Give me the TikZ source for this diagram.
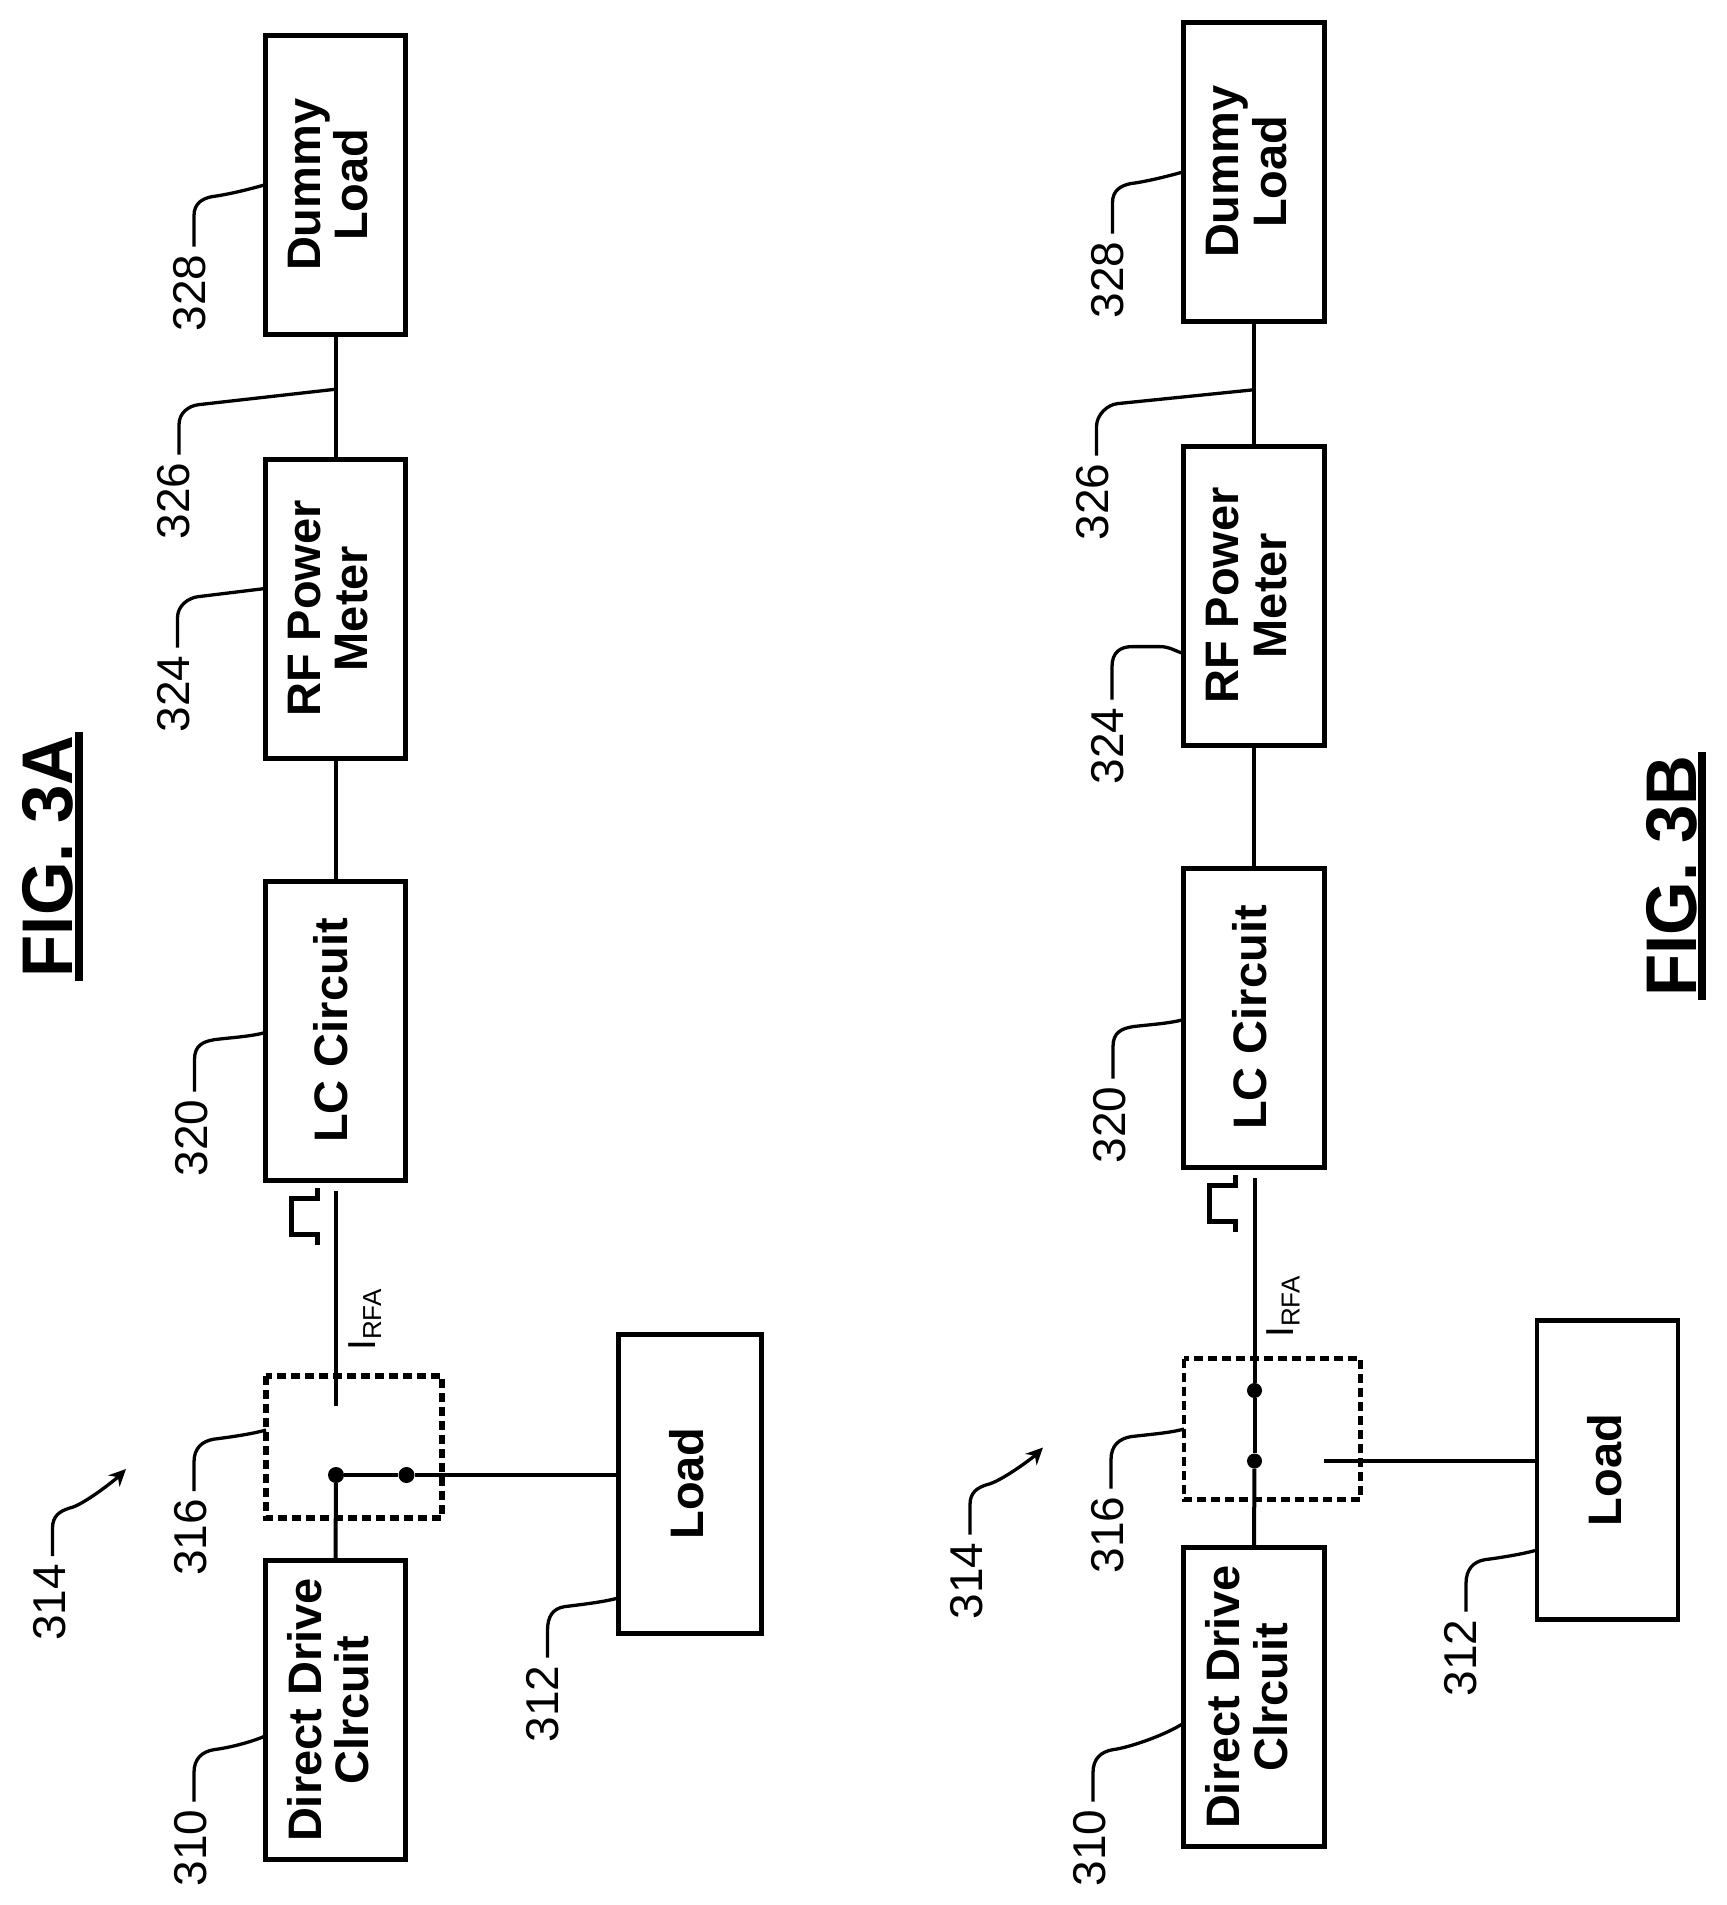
\documentclass[tikz,border=0pt]{standalone}
\usepackage{fontspec}
\setmainfont{Liberation Sans}
\usetikzlibrary{arrows.meta}

\tikzset{
    blockbox/.style={draw=black, line width=5pt, rotate=90, inner sep=0pt, outer sep=0pt,
        minimum width=299pt, minimum height=140.5pt, align=center, text depth=15pt,
        font=\fontsize{47}{47.6}\selectfont\bfseries},
    switchbox/.style={draw=black, line width=5.5pt, dash pattern=on 9pt off 5pt, rotate=90,
        inner sep=0pt, outer sep=0pt},
    refnum/.style={rotate=90, inner sep=0pt, outer sep=8pt, font=\fontsize{46}{46}\selectfont},
    figtitle/.style={rotate=90, inner sep=0pt, outer sep=0pt, anchor=south, text depth=0pt,
        font=\fontsize{69}{69}\selectfont\bfseries},
    currentlabel/.style={rotate=90, inner sep=0pt, anchor=base west, font=\fontsize{39}{39}\selectfont},
    jointdot/.style={circle, fill=black, inner sep=0pt, minimum size=16pt},
    wire/.style={line width=4pt},
    thinwire/.style={line width=3.5pt},
    pulseline/.style={line width=5pt},
    leader/.style={line width=3.3pt},
    figbar/.style={line width=8pt}
}

\begin{document}
\begin{tikzpicture}[x=1pt, y=-1pt]
    \useasboundingbox (0,0) rectangle (1726,1905);

    % Figure 3A
    \begin{scope}
        \node[blockbox] (dummya) at (335.5,184.75) {Dummy\\Load};
        \node[blockbox] (metera) at (335.5,608.5) {RF Power\\Meter};
        \node[blockbox, text depth=10pt] (lca) at (335.5,1030.5) {LC Circuit};
        \node[blockbox] (drivea) at (335.5,1710) {Direct Drive\\Clrcuit};
        \node[blockbox, text depth=7pt, minimum height=143pt] (loada) at (689.5,1483.5) {Load};
        \node[switchbox, minimum width=142pt, minimum height=176pt] (switcha) at (354,1447) {};

        % Wires
        \draw[wire] (dummya.west) -- (metera.east);
        \draw[wire] (metera.west) -- (lca.east);
        \coordinate (toplinea) at (336,1191);
        \coordinate (botlinea) at (336,1406);
        \draw[wire] (toplinea) -- (botlinea);
        \node[jointdot] (jointa) at (336,1475) {};
        \node[jointdot] (contacta) at (406.5,1475) {};
        \draw[wire] (drivea.east) -- (jointa);
        \draw[wire] (jointa) -- (contacta);
        \draw[wire] (contacta) -- (contacta -| loada.north);

        % Pulse and current
        \draw[pulseline] (317,1188) -- (317,1198) -- (291,1198) -- (291,1234) -- (317,1234) -- (317,1245);
        \node[currentlabel] (irfaa) at (375,1351) {I\raisebox{-6pt}{\fontsize{26}{26}\selectfont RFA}};

        % Reference numbers
        \node[refnum] (n314a) at (49.5,1602.5) {314};
        \node[refnum] (n316a) at (191,1537.5) {316};
        \node[refnum] (n310a) at (191,1848) {310};
        \node[refnum] (n312a) at (542.5,1704) {312};
        \node[refnum] (n328a) at (189.5,293) {328};
        \node[refnum] (n326a) at (173.5,501) {326};
        \node[refnum] (n324a) at (173.5,694) {324};
        \node[refnum] (n320a) at (191.5,1138) {320};

        % Leaders
        \coordinate (tipa) at (126,1469);
        \draw[leader, -{Stealth[length=17pt,width=16pt]}] ([xshift=3pt]n314a.east) -- ++(0,-28) .. controls +(0,-12) and +(-10,3) .. ++(17,-20) .. controls +(14,-3) and +(-10,10) .. (tipa);
        \draw[leader] ([xshift=3pt]n316a.east) -- ++(0,-29) .. controls +(0,-14) and +(-12,2) .. ++(20,-23) .. controls +(16,-2) and +(-14,4) .. ([shift={(0,-17)}]switcha.north);
        \draw[leader] ([xshift=3pt]n310a.east) -- ++(0,-29) .. controls +(0,-14) and +(-12,2) .. ++(20,-23) .. controls +(16,-2) and +(-14,6) .. ([shift={(0,26)}]drivea.north);
        \draw[leader] ([xshift=5pt]n312a.east) -- ++(0,-27) .. controls +(0,-14) and +(-12,2) .. ++(17,-24) .. controls +(16,-2) and +(-14,4) .. ([shift={(0,114.5)}]loada.north);
        \draw[leader] ([xshift=4.5pt]n328a.east) -- ++(0,-31) .. controls +(0,-12) and +(-10,2) .. ++(18,-19) .. controls +(16,-2) and +(-14,4) .. (dummya.north);
        \draw[leader] ([xshift=5.5pt]n326a.east) -- ++(0,-30) .. controls +(0,-12) and +(-10,1) .. ++(20,-20) -- ([shift={(0,55)}]dummya.west);
        \draw[leader] ([xshift=4pt]n324a.east) -- ++(0,-30) .. controls +(0,-12) and +(-10,1) .. ++(21,-21) -- ([shift={(0,-20)}]metera.north);
        \draw[leader] ([xshift=3pt]n320a.east) -- ++(0,-32) .. controls +(0,-14) and +(-12,2) .. ++(20,-20) .. controls +(16,-2) and +(-14,4) .. ([shift={(0,2)}]lca.north);
    \end{scope}

    % Figure 3B
    \begin{scope}[shift={(918.5,-13)}]
        \node[blockbox] (dummyb) at (335.5,184.75) {Dummy\\Load};
        \node[blockbox] (meterb) at (335.5,608.5) {RF Power\\Meter};
        \node[blockbox, text depth=10pt] (lcb) at (335.5,1030.5) {LC Circuit};
        \node[blockbox] (driveb) at (335.5,1710) {Direct Drive\\Clrcuit};
        \node[blockbox, text depth=7pt, minimum height=141pt, line width=4.2pt] (loadb) at (689,1483) {Load};
        \node[switchbox, line width=4.5pt, minimum width=141pt, minimum height=176.5pt] (switchb) at (353.75,1442) {};

        % Wires
        \draw[wire] (dummyb.west) -- (meterb.east);
        \draw[wire] (meterb.west) -- (lcb.east);
        \coordinate (toplineb) at (336,1191);
        \node[jointdot, minimum size=15pt] (jointb) at (336,1474) {};
        \node[jointdot, minimum size=15pt] (contactb) at (336,1403.5) {};
        \draw[wire] (toplineb) -- (contactb);
        \draw[wire] (contactb) -- (jointb);
        \draw[wire] (jointb) -- (driveb.east);
        \coordinate (stubb) at (405,1474);
        \draw[thinwire] (stubb) -- (stubb -| loadb.north);

        % Pulse and current
        \draw[pulseline] (317,1188) -- (317,1198) -- (291,1198) -- (291,1234) -- (317,1234) -- (317,1245);
        \node[currentlabel] (irfab) at (375,1351) {I\raisebox{-6pt}{\fontsize{26}{26}\selectfont RFA}};

        % Reference numbers
        \node[refnum] (n314b) at (48.5,1594) {314};
        \node[refnum] (n316b) at (189.5,1548) {316};
        \node[refnum] (n310b) at (171.5,1861) {310};
        \node[refnum] (n312b) at (542.5,1671) {312};
        \node[refnum] (n328b) at (189.5,293) {328};
        \node[refnum] (n326b) at (174.5,515) {326};
        \node[refnum] (n324b) at (189.5,759) {324};
        \node[refnum] (n320b) at (191.5,1138) {320};

        % Leaders
        \coordinate (tipb) at (124.5,1460.5);
        \draw[leader, -{Stealth[length=17pt,width=16pt]}] ([xshift=3pt]n314b.east) -- ++(0,-30) .. controls +(0,-12) and +(-10,3) .. ++(17,-20) .. controls +(14,-3) and +(-10,10) .. (tipb);
        \draw[leader] ([xshift=3pt]n316b.east) -- ++(0,-29) .. controls +(0,-14) and +(-12,2) .. ++(20,-23) .. controls +(16,-2) and +(-14,4) .. ([shift={(0,0)}]switchb.north);
        \draw[leader] ([xshift=3pt]n310b.east) -- ++(0,-29) .. controls +(0,-14) and +(-12,2) .. ++(20,-23) .. controls +(16,-2) and +(-18,12) .. ([shift={(0,26)}]driveb.north);
        \draw[leader] ([xshift=5pt]n312b.east) -- ++(0,-28) .. controls +(0,-14) and +(-12,2) .. ++(19,-24) .. controls +(16,-2) and +(-14,4) .. ([shift={(0,80)}]loadb.north);
        \draw[leader] ([xshift=4.5pt]n328b.east) -- ++(0,-31) .. controls +(0,-12) and +(-10,2) .. ++(18,-19) .. controls +(16,-2) and +(-14,4) .. (dummyb.north);
        \draw[leader] ([xshift=3.5pt]n326b.east) -- ++(0,-29) .. controls +(0,-12) and +(-10,1) .. ++(21,-23) -- ([shift={(0,68.5)}]dummyb.west);
        \draw[leader] ([xshift=4pt]n324b.east) -- ++(0,-33) .. controls +(0,-14) and +(-12,0) .. ++(20,-20) -- ++(28,0) .. controls +(10,0) and +(-8,-2) .. ([shift={(0,58)}]meterb.north);
        \draw[leader] ([xshift=3pt]n320b.east) -- ++(0,-32) .. controls +(0,-14) and +(-12,2) .. ++(20,-20) .. controls +(16,-2) and +(-14,4) .. ([shift={(0,2)}]lcb.north);
    \end{scope}

    % Figure titles
    \node[figtitle] (titlea) at (72,856.5) {\scalebox{1}[1.04]{FIG. 3A}};
    \draw[figbar] ([shift={(7,3.5)}]titlea.south west) -- ([shift={(7,-3.5)}]titlea.south east);
    \node[figtitle] (titleb) at (1696,876) {\scalebox{1}[1.04]{FIG. 3B}};
    \draw[figbar] ([shift={(5.5,3.5)}]titleb.south west) -- ([shift={(5.5,-3.5)}]titleb.south east);
\end{tikzpicture}
\end{document}
